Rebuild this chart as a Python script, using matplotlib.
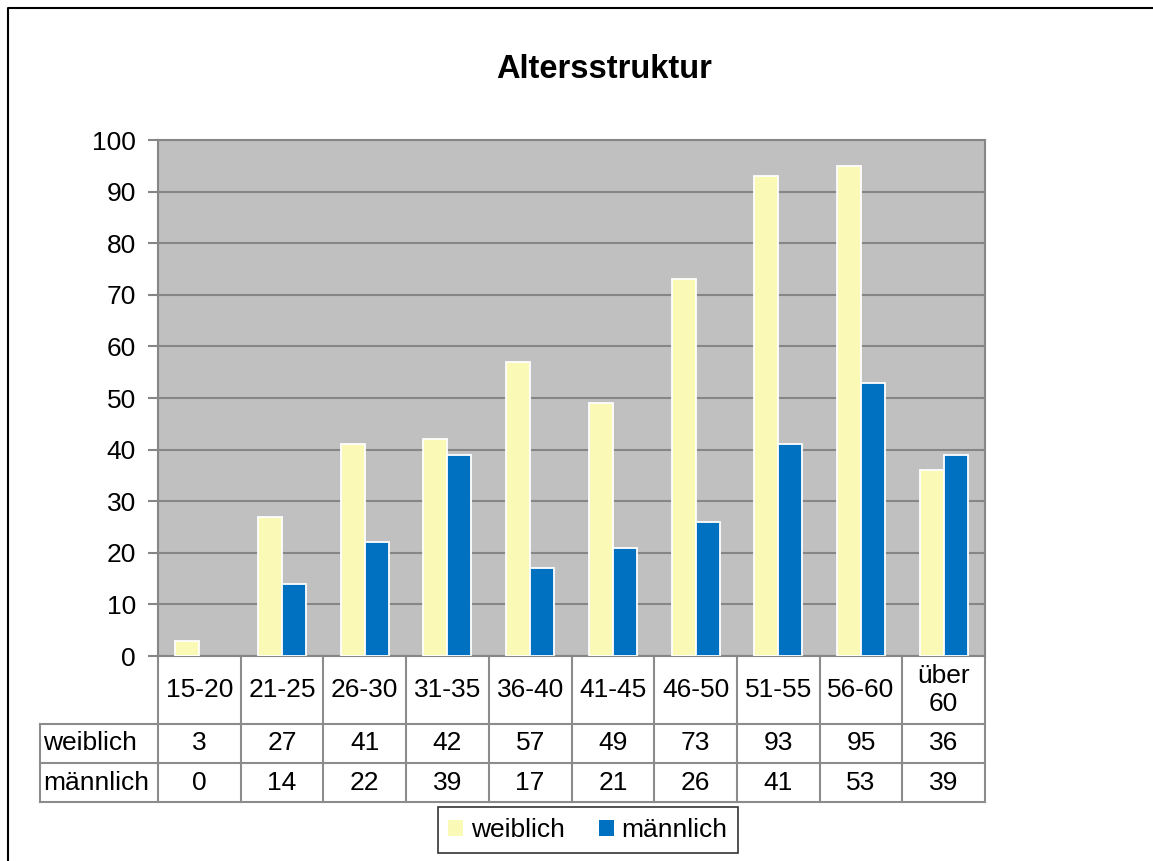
import matplotlib
matplotlib.use("Agg")
import matplotlib.pyplot as plt
import matplotlib.transforms as mtransforms
from matplotlib.lines import Line2D
from matplotlib.patches import Patch
import numpy as np

plt.rcParams['font.family'] = ['Liberation Sans', 'DejaVu Sans']

categories = ["15-20", "21-25", "26-30", "31-35", "36-40", "41-45", "46-50", "51-55", "56-60", "über\n60"]
weiblich = [3, 27, 41, 42, 57, 49, 73, 93, 95, 36]
maennlich = [0, 14, 22, 39, 17, 21, 26, 41, 53, 39]
series_names = ["weiblich", "männlich"]
yticks = [0, 10, 20, 30, 40, 50, 60, 70, 80, 90, 100]
title = "Altersstruktur"

FS = 19

W, H = 1153, 861
fig = plt.figure(figsize=(W / 100, H / 100), dpi=100)
fig.patch.set_facecolor("white")

# outer chart frame (left and top)
fig.add_artist(Line2D([8 / W, 8 / W, 1.0], [0.0, 1 - 8 / H, 1 - 8 / H],
                      transform=fig.transFigure, color="black", lw=1.5))

left, right, top, bottom = 158, 985, 140, 656
ax = fig.add_axes([left / W, 1 - bottom / H, (right - left) / W, (bottom - top) / H])
ax.set_facecolor("#C0C0C0")

yellow = "#FAFAB6"
blue = "#0070C0"
grid_c = "#868686"
x = np.arange(len(categories))
bw = 0.29
ec_w = ["white" if v > 0 else "none" for v in weiblich]
ec_m = ["white" if v > 0 else "none" for v in maennlich]
ax.bar(x - bw / 2, weiblich, width=bw, color=yellow, edgecolor=ec_w, linewidth=1.3, zorder=3)
ax.bar(x + bw / 2, maennlich, width=bw, color=blue, edgecolor=ec_m, linewidth=1.3, zorder=3)

ax.set_xlim(-0.5, len(categories) - 0.5)
ax.set_ylim(0, 100)
ax.set_yticks(yticks)
ax.set_yticklabels([str(v) for v in yticks], fontsize=FS)
ax.yaxis.grid(True, color=grid_c, lw=1.5, zorder=1)
ax.set_axisbelow(True)
ax.tick_params(axis="y", direction="out", length=7, width=1.5, color=grid_c, pad=9)
ax.set_xticks([])
for s in ax.spines.values():
    s.set_color(grid_c)
    s.set_linewidth(1.5)

fig.text(604 / W, 1 - 70 / H, title, ha="center", va="center", fontsize=23.5, fontweight="bold")

# data table below the axes
axh = bottom - top
r0 = 0.0
r1 = -(724 - bottom) / axh
r2 = -(763 - bottom) / axh
r3 = -(802 - bottom) / axh
lc = -(left - 40) / (right - left)
trans = mtransforms.blended_transform_factory(ax.transData, ax.transAxes)
tab_c = "#8C8C8C"
tlw = 1.5
n = len(categories)
for k in range(n + 1):
    ax.add_line(Line2D([k - 0.5, k - 0.5], [r0, r3], transform=trans, color=tab_c, lw=tlw, clip_on=False))
for yy in (r1, r2, r3):
    ax.add_line(Line2D([lc, 1.0], [yy, yy], transform=ax.transAxes, color=tab_c, lw=tlw, clip_on=False))
ax.add_line(Line2D([lc, lc], [r1, r3], transform=ax.transAxes, color=tab_c, lw=tlw, clip_on=False))

for i, c in enumerate(categories):
    ax.text(i, (r0 + r1) / 2, c, transform=trans, ha="center", va="center", fontsize=FS,
            linespacing=1.2, clip_on=False)
    ax.text(i, (r1 + r2) / 2, str(weiblich[i]), transform=trans, ha="center", va="center",
            fontsize=FS, clip_on=False)
    ax.text(i, (r2 + r3) / 2, str(maennlich[i]), transform=trans, ha="center", va="center",
            fontsize=FS, clip_on=False)
ax.text(lc + 0.004, (r1 + r2) / 2, series_names[0], transform=ax.transAxes, ha="left", va="center",
        fontsize=FS, clip_on=False)
ax.text(lc + 0.004, (r2 + r3) / 2, series_names[1], transform=ax.transAxes, ha="left", va="center",
        fontsize=FS, clip_on=False)

handles = [Patch(facecolor=yellow, edgecolor="none"), Patch(facecolor=blue, edgecolor="none")]
leg = fig.legend(handles, series_names, loc="center", bbox_to_anchor=(588 / W, 1 - 830 / H),
                 ncol=2, fontsize=FS, frameon=True, fancybox=False, handlelength=0.55,
                 handleheight=0.55, handletextpad=0.3, columnspacing=1.3, borderpad=0.4,
                 borderaxespad=0)
leg.get_frame().set_edgecolor("black")
leg.get_frame().set_linewidth(1.2)
leg._legend_box.sep = 0

fig.savefig("out.png", dpi=100, facecolor="white")
